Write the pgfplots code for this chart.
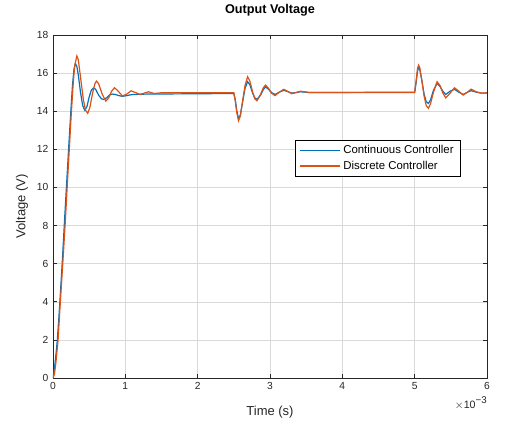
\documentclass[border=0pt]{standalone}
\usepackage{pgfplots}
\pgfplotsset{compat=1.18}
\usepackage{fontspec}
\setmainfont{Liberation Sans}
\definecolor{mblue}{rgb}{0,0.447,0.741}
\definecolor{morange}{rgb}{0.85,0.325,0.098}
\definecolor{axgray}{rgb}{0.15,0.15,0.15}
\begin{document}
\begin{tikzpicture}
\path[use as bounding box] (-39.75pt,-38.25pt) rectangle (348.75pt,283.5pt);
\begin{axis}[
 name=ax,
 scale only axis, width=325.5pt, height=257.25pt,
 xmin=0, xmax=6, ymin=0, ymax=18,
 xtick={0,1,...,6}, ytick={0,2,...,18},
 /pgf/number format/assume math mode=true,
 ticklabel style={font=\fontsize{7.7}{9}\selectfont, text=axgray},
 grid=major, grid style={black!15, line width=0.4pt},
 axis line style={axgray, line width=0.5pt},
 tick style={axgray, line width=0.5pt},
 major tick length=3pt, tick align=inside,
 xlabel={Time (s)}, ylabel={Voltage (V)},
 xlabel style={at={(axis description cs:0.5,-0.0984)}, anchor=center, font=\fontsize{9.75}{11}\selectfont, text=axgray},
 ylabel style={at={(axis description cs:-0.0714,0.5)}, anchor=center, font=\fontsize{9.75}{11}\selectfont, text=axgray},
 title={Output Voltage},
 title style={at={(axis description cs:0.5,1.0496)}, anchor=center, font=\fontsize{9.5}{11}\selectfont\bfseries},
 legend style={at={(0.939,0.695)}, anchor=north east, font=\fontsize{8.55}{10}\selectfont},
 legend cell align=left,
 legend image code/.code={\draw[line width=0.9pt,#1] (0pt,0pt) -- (30pt,0pt);},
]
\addplot[mblue, line width=0.9pt] table {
0 0
0.02 0.5
0.04 1.2
0.06 2.0
0.08 3.1
0.10 4.3
0.13 6.2
0.16 8.3
0.19 10.3
0.22 12.3
0.25 14.2
0.27 15.4
0.29 16.2
0.31 16.5
0.33 16.35
0.35 15.9
0.38 15.0
0.41 14.3
0.44 14.05
0.47 14.25
0.50 14.75
0.53 15.1
0.56 15.22
0.59 15.15
0.63 14.85
0.67 14.65
0.70 14.62
0.74 14.7
0.78 14.85
0.82 14.9
0.86 14.88
0.91 14.82
0.96 14.78
1.02 14.82
1.1 14.88
1.3 14.9
2.5 14.93
2.52 14.6
2.54 14.05
2.565 13.6
2.59 13.8
2.62 14.45
2.655 15.2
2.69 15.55
2.72 15.4
2.76 14.95
2.79 14.7
2.82 14.62
2.87 14.85
2.91 15.15
2.94 15.28
2.98 15.15
3.02 14.98
3.07 14.88
3.13 15.0
3.19 15.1
3.25 15.02
3.3 14.95
3.36 14.98
3.42 15.02
3.55 14.98
5.0 14.98
5.02 15.5
5.04 16.1
5.055 16.3
5.07 16.2
5.1 15.6
5.13 14.9
5.16 14.5
5.19 14.41
5.22 14.6
5.26 15.1
5.31 15.46
5.35 15.3
5.39 15.05
5.43 14.88
5.49 15.05
5.55 15.15
5.61 15.0
5.67 14.88
5.73 15.0
5.78 15.08
5.85 15.0
5.92 14.95
6.0 14.95
};
\addlegendentry{Continuous Controller}
\addplot[morange, line width=0.9pt] table {
0 0
0.02 0.2
0.04 0.8
0.07 2.0
0.10 3.9
0.135 6.0
0.17 8.2
0.20 10.3
0.225 12.0
0.25 13.7
0.28 15.5
0.30 16.4
0.33 16.9
0.35 16.7
0.38 15.8
0.42 14.6
0.45 14.05
0.48 13.89
0.51 14.2
0.55 15.0
0.58 15.45
0.60 15.58
0.63 15.45
0.68 14.9
0.73 14.53
0.77 14.7
0.81 15.05
0.85 15.23
0.89 15.1
0.96 14.8
1.02 14.9
1.08 15.07
1.14 14.98
1.2 14.88
1.26 14.95
1.32 15.02
1.4 14.93
1.5 14.97
2.5 14.97
2.52 14.55
2.54 13.95
2.565 13.5
2.59 13.75
2.62 14.5
2.655 15.35
2.69 15.81
2.72 15.6
2.76 15.0
2.79 14.65
2.82 14.55
2.86 14.8
2.91 15.25
2.94 15.37
2.98 15.2
3.02 14.95
3.07 14.82
3.13 15.0
3.19 15.15
3.25 15.03
3.3 14.92
3.36 14.98
3.42 15.05
3.55 14.98
5.0 15.0
5.02 15.6
5.04 16.25
5.055 16.42
5.07 16.3
5.1 15.6
5.13 14.8
5.16 14.3
5.19 14.15
5.22 14.4
5.26 15.0
5.31 15.55
5.35 15.35
5.39 14.95
5.43 14.7
5.49 14.95
5.55 15.23
5.61 15.05
5.67 14.85
5.73 15.0
5.78 15.16
5.85 15.02
5.92 14.95
6.0 14.97
};
\addlegendentry{Discrete Controller}
\end{axis}
\node[anchor=east, font=\fontsize{8}{9}\selectfont, text=axgray, inner sep=0pt] at ([yshift=-19pt]ax.south east) {$\times$10\raisebox{0.85ex}{\fontsize{7.3}{8}\selectfont −3}};
\end{tikzpicture}
\end{document}
